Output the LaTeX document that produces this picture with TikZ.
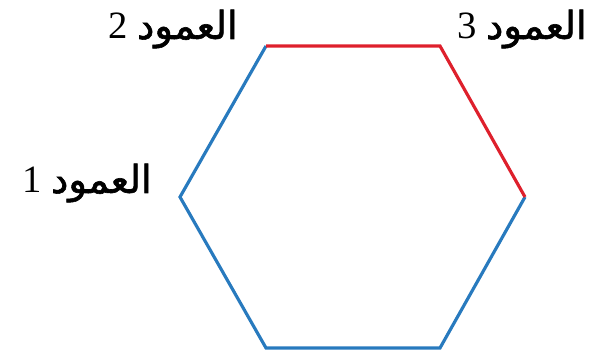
\documentclass[tikz,border=0pt]{standalone}
\usepackage{fontspec}
\setmainfont{Liberation Serif}
\newfontfamily\arabicfont[Script=Arabic,FakeBold=1.5]{DejaVu Sans}
\TeXXeTstate=1
\definecolor{hexblue}{RGB}{40,122,190}
\definecolor{hexred}{RGB}{222,32,44}
\tikzset{
  side/.style={line width=1.8pt, line join=miter},
  lbl/.style={inner sep=0pt, font=\fontsize{22}{26}\selectfont}
}
\begin{document}
\begin{tikzpicture}[x=0.02cm, y=-0.02cm]
  \useasboundingbox (0,0) rectangle (592,358);
  % corners
  \coordinate (tl) at (266,46);
  \coordinate (tr) at (440,46);
  \coordinate (r) at (525,197);
  \coordinate (br) at (440,348);
  \coordinate (bl) at (266,348);
  \coordinate (l) at (180,197);

  % hexagon
  \draw[side, hexblue] (r) -- (br) -- (bl) -- (l) -- (tl);
  \draw[side, hexred] (tl) -- (tr) -- (r);

  % labels
  \node[lbl] (col2) at (173,29) {\beginR{\arabicfont العمود} 2\endR};
  \node[lbl] (col3) at (522,29) {\beginR{\arabicfont العمود} 3\endR};
  \node[lbl] (col1) at (87,183) {\beginR{\arabicfont العمود} 1\endR};
\end{tikzpicture}
\end{document}
